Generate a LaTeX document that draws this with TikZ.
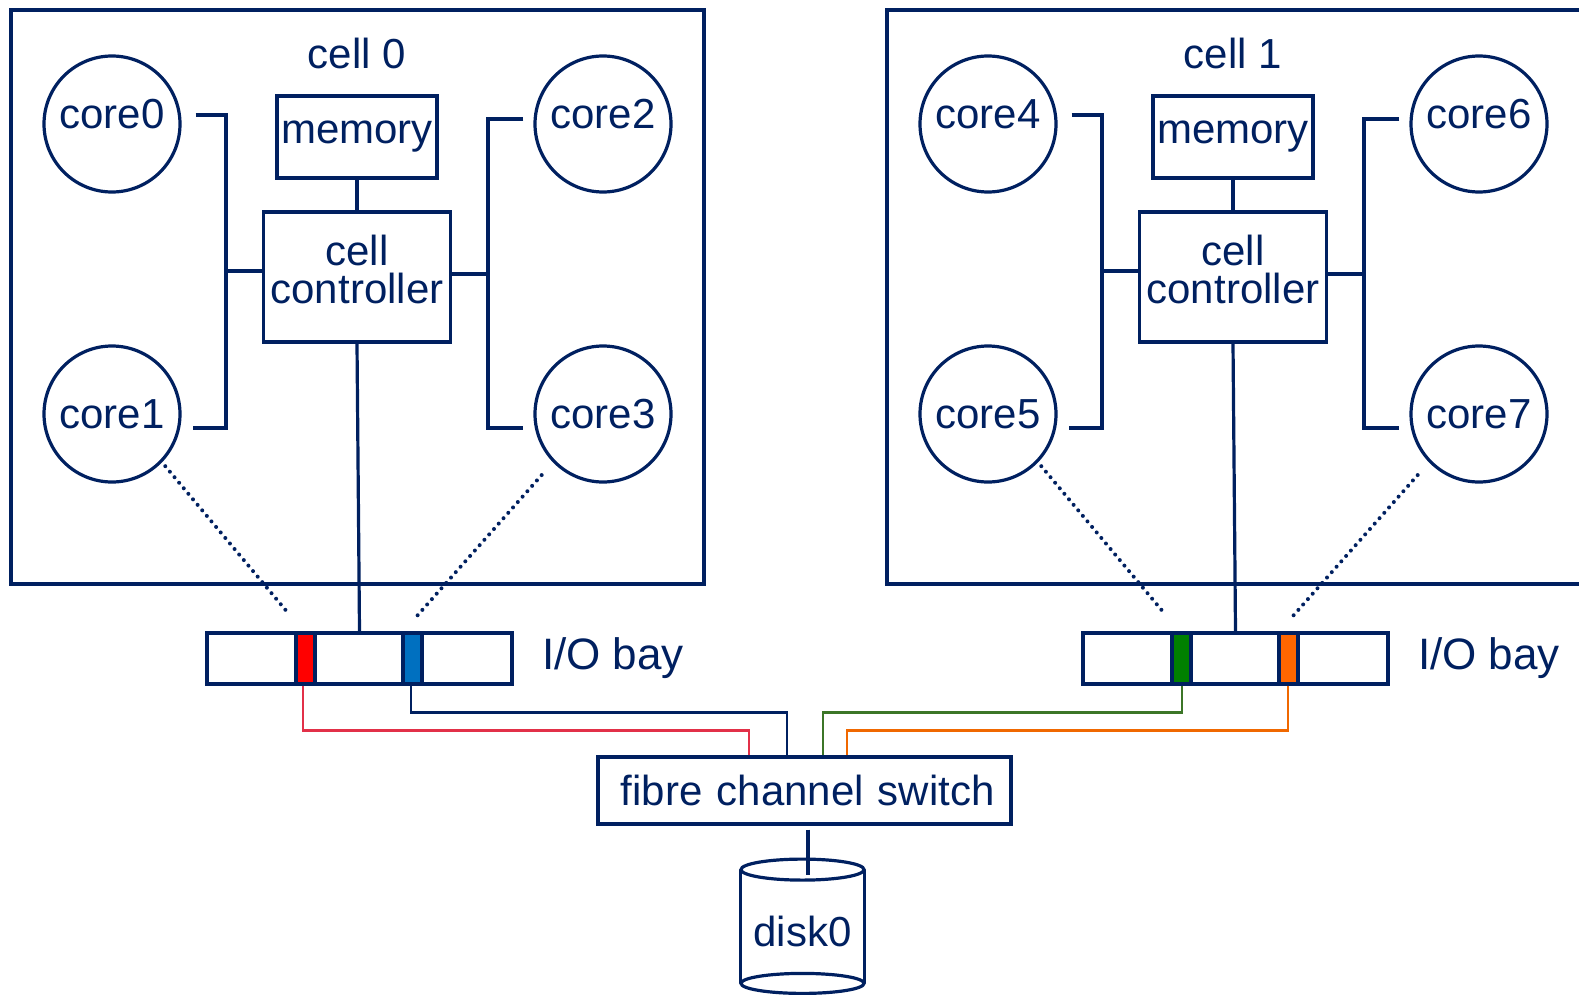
\documentclass[tikz,border=0pt]{standalone}
\usepackage{fontspec}
\setmainfont{Liberation Sans}
\usetikzlibrary{positioning}

\definecolor{navy}{RGB}{0,32,96}
\definecolor{portred}{RGB}{255,0,0}
\definecolor{portblue}{RGB}{0,112,192}
\definecolor{portgreen}{RGB}{0,128,0}
\definecolor{portorange}{RGB}{255,102,0}
\definecolor{wirered}{RGB}{226,48,72}
\definecolor{wiregreen}{RGB}{60,118,40}
\definecolor{wireorange}{RGB}{240,104,0}

\tikzset{
  bus/.style={draw=navy, line width=1.6pt},
  corenode/.style={circle, draw=navy, line width=1.6pt, minimum size=68pt, inner sep=0pt},
  box/.style={rectangle, draw=navy, line width=1.6pt, inner sep=0pt},
  portbox/.style={rectangle, draw=navy, line width=1.6pt, minimum width=9.5pt, minimum height=25.5pt, inner sep=0pt},
  dotline/.style={navy, line width=2pt, line cap=round, dash pattern=on 0pt off 3.6pt},
  wire/.style={line width=1.35pt}
}

\begin{document}
\begin{tikzpicture}[x=0.5pt, y=-0.5pt, font=\fontsize{21}{19}\selectfont, every node/.style={text=navy}]
  \useasboundingbox (0,0) rectangle (1579,995);
  % the two cells
  \draw[bus] (11,10) rectangle (704,584);
  \draw[bus] (887,10) rectangle (1600,584);
  \foreach \n/\dx/\tl/\bl/\tr/\br/\lc/\rc in {0/0/0/1/2/3/portred/portblue, 1/876/4/5/6/7/portgreen/portorange} {
    \node (title\n) at (357+\dx,53) {cell \n};
    \node[corenode, text depth=10.3pt] (core\tl) at (112+\dx,124) {core\tl};
    \node[corenode] (core\bl) at (112+\dx,414) {core\bl};
    \node[corenode, text depth=10.3pt] (core\tr) at (603+\dx,124) {core\tr};
    \node[corenode] (core\br) at (603+\dx,414) {core\br};
    \node[box, minimum width=80pt, minimum height=41pt] (mem\n) at (357+\dx,137) {memory};
    \node[box, minimum width=93.5pt, minimum height=65pt, align=center, text depth=8pt] (ctrl\n) at (357+\dx,277) {cell\\controller};
    \draw[bus] (mem\n) -- (ctrl\n);
    % buses to the cores
    \coordinate (lbus\n) at (226+\dx,271);
    \coordinate (rbus\n) at (488+\dx,274);
    \draw[bus] ([shift={(7pt,4.5pt)}]core\tl.east) -| (lbus\n) |- ([shift={(5.5pt,-7pt)}]core\bl.east);
    \draw[bus] (lbus\n) -- (lbus\n -| ctrl\n.west);
    \draw[bus] ([shift={(-5pt,2.5pt)}]core\tr.west) -| (rbus\n) |- ([shift={(-5pt,-7pt)}]core\br.west);
    \draw[bus] (ctrl\n.east |- rbus\n) -- (rbus\n);
    % I/O bay
    \node[box, minimum width=152.5pt, minimum height=25.5pt] (io\n) at (359.5+\dx,658.5) {};
    \node[portbox, fill=\lc] (portL\n) at (305.5+\dx,658.5) {};
    \node[portbox, fill=\rc] (portR\n) at (412.5+\dx,658.5) {};
    \node[right=14pt of io\n, inner sep=0pt, font=\fontsize{22}{19}\selectfont] (iolabel\n) {I/O bay};
    \draw[bus] (ctrl\n.south) -- (io\n.north);
    \draw[dotline, shorten <=2.5pt] (core\bl.-44) -- ([shift={(-3pt,9pt)}]portL\n.north west);
    \draw[dotline, shorten <=8.5pt] (core\br.224) -- ([shift={(-3.5pt,7.5pt)}]portR\n.north east);
  }
  % switch and disk
  \node[box, minimum width=206.5pt, minimum height=33.5pt, text width=190pt, align=right] (switch) at (804.5,790.5) {fibre channel switch};
  \node[inner sep=0pt, minimum width=61.5pt, minimum height=56.5pt, text height=20pt] (disk) at (802.5,926.5) {disk0};
  \draw[bus] (disk.north west) -- (disk.south west) (disk.north east) -- (disk.south east);
  \draw[bus] (disk.north) ellipse [x radius=30.75pt, y radius=5.25pt];
  \draw[bus] (disk.south) ellipse [x radius=30.75pt, y radius=5pt];
  \draw[bus] ([shift={(1.75pt,-2pt)}]switch.south) -- ([shift={(2.75pt,-2.5pt)}]disk.north);
  % fibre links
  \draw[wire, wirered] ([xshift=-1.25pt]portL0.south) |- ([shift={(-27.75pt,12.5pt)}]switch.north) -- ([xshift=-27.75pt]switch.north);
  \draw[wire, navy] ([xshift=-0.75pt]portR0.south) |- ([shift={(-8.75pt,21.5pt)}]switch.north) -- ([xshift=-8.75pt]switch.north);
  \draw[wire, wiregreen] ([xshift=0.25pt]portL1.south) |- ([shift={(9.25pt,21.5pt)}]switch.north) -- ([xshift=9.25pt]switch.north);
  \draw[wire, wireorange] ([xshift=-0.25pt]portR1.south) |- ([shift={(21.25pt,12.5pt)}]switch.north) -- ([xshift=21.25pt]switch.north);
\end{tikzpicture}
\end{document}
